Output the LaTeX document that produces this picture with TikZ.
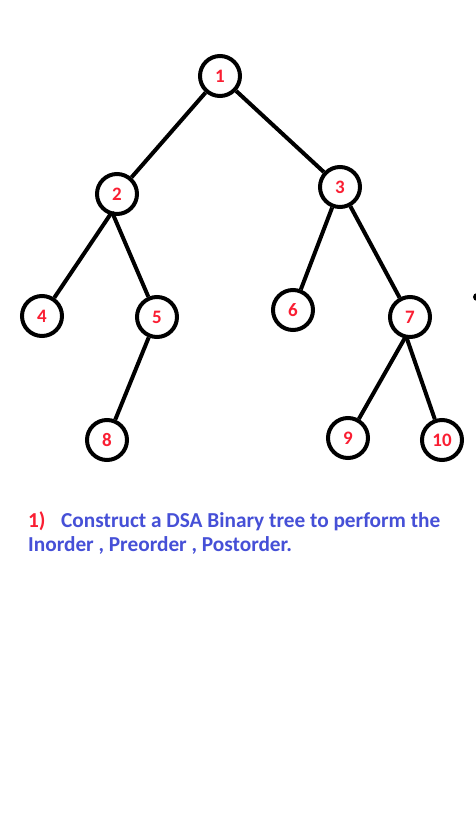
\documentclass[tikz,border=0pt]{standalone}
\usepackage{fontspec}
\setmainfont{Carlito}
\definecolor{lblred}{RGB}{250,30,50}
\definecolor{txtblue}{RGB}{70,80,215}
\begin{document}
\begin{tikzpicture}[x=1pt,y=-1pt,
  tnode/.style={circle,draw=black,line width=4pt,minimum size=40pt,inner sep=0pt,
    text=lblred,font=\fontsize{19}{19}\selectfont\bfseries},
  edge/.style={line width=4pt,black},
  para/.style={anchor=base west,inner sep=0pt,font=\fontsize{21.3}{24}\selectfont\bfseries}]
\useasboundingbox (0,0) rectangle (476,836);
\fill[white] (0,0) rectangle (476,836);
\node[tnode] (n1) at (220,76) {1};
\node[tnode] (n2) at (117,194) {2};
\node[tnode] (n3) at (340,187) {3};
\node[tnode] (n4) at (42,316) {\raisebox{-2pt}{4}};
\node[tnode] (n5) at (157,317) {\raisebox{-1pt}{5}};
\node[tnode] (n6) at (293,310) {\raisebox{-3pt}{6}};
\node[tnode] (n7) at (410,317) {7};
\node[tnode] (n8) at (107,440) {\raisebox{-3pt}{8}};
\node[tnode] (n9) at (348,438) {9};
\node[tnode] (n10) at (442,440) {10};
\coordinate (j2) at (112,212);
\coordinate (j7) at (406,336);
\draw[edge] (n1) -- (n2);
\draw[edge] (n1) -- (n3);
\draw[edge] (j2) -- (n4);
\draw[edge] (j2) -- (n5);
\draw[edge] (n3) -- (n6);
\draw[edge] (n3) -- (n7);
\draw[edge] (n5) -- (n8);
\draw[edge] (j7) -- (n9);
\draw[edge] (j7) -- (n10);
\fill[black] (477,297) circle (4);
\node[para,text=lblred] (num) at (28,527) {1)};
\node[para,text=txtblue] (l1) at (61,527) {Construct a DSA Binary tree to perform the};
\node[para,text=txtblue] (l2) at (28,551) {Inorder , Preorder , Postorder.};
\end{tikzpicture}
\end{document}
